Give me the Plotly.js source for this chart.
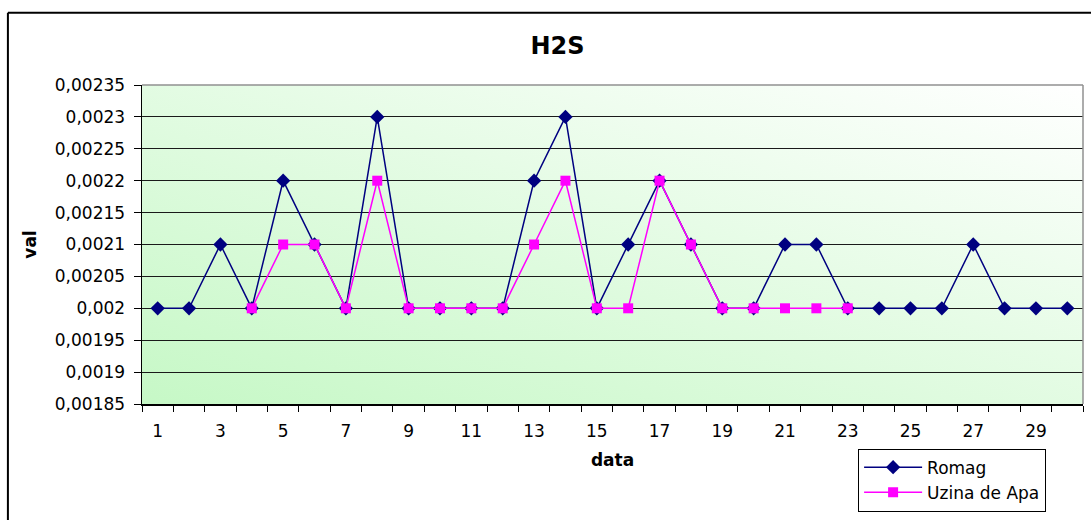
<!DOCTYPE html>
<html>
<head>
<meta charset="utf-8">
<script src="https://cdn.plot.ly/plotly-3.0.1.min.js"></script>
<style>
  html, body { margin: 0; padding: 0; background: #ffffff; }
  #chart { width: 1091px; height: 520px; }
</style>
</head>
<body>
<div id="chart"></div>
<script>
// Daily H2S readings for two stations
const days = [1, 2, 3, 4, 5, 6, 7, 8, 9, 10, 11, 12, 13, 14, 15,
              16, 17, 18, 19, 20, 21, 22, 23, 24, 25, 26, 27, 28, 29, 30];
const romag = [0.002, 0.002, 0.0021, 0.002, 0.0022, 0.0021, 0.002, 0.0023, 0.002, 0.002,
               0.002, 0.002, 0.0022, 0.0023, 0.002, 0.0021, 0.0022, 0.0021, 0.002, 0.002,
               0.0021, 0.0021, 0.002, 0.002, 0.002, 0.002, 0.0021, 0.002, 0.002, 0.002];
const uzinaDeApa = [null, null, null, 0.002, 0.0021, 0.0021, 0.002, 0.0022, 0.002, 0.002,
                    0.002, 0.002, 0.0021, 0.0022, 0.002, 0.002, 0.0022, 0.0021, 0.002, 0.002,
                    0.002, 0.002, 0.002, null, null, null, null, null, null, null];
const xLabelDays = [1, 3, 5, 7, 9, 11, 13, 15, 17, 19, 21, 23, 25, 27, 29];
const yTicks = [0.00185, 0.0019, 0.00195, 0.002, 0.00205, 0.0021, 0.00215, 0.0022, 0.00225, 0.0023, 0.00235];

const fmt = v => String(parseFloat(v.toFixed(5))).replace('.', ',');
const boundaries = [];
for (let i = 0; i <= days.length; i++) boundaries.push(days[0] - 0.5 + i);

// soft green-to-white fill behind the plotting area
const gradSvg =
  '<svg xmlns="http://www.w3.org/2000/svg" width="100" height="100" preserveAspectRatio="none">' +
  '<defs><linearGradient id="g" x1="0" y1="1" x2="1" y2="0">' +
  '<stop offset="0" stop-color="#c6f8c6"/><stop offset="1" stop-color="#ffffff"/>' +
  '</linearGradient></defs><rect width="100" height="100" fill="url(#g)"/></svg>';
const gradSrc = 'data:image/svg+xml;charset=utf-8,' + encodeURIComponent(gradSvg);

const FONT = 'DejaVu Sans, Liberation Sans, Arial, sans-serif';

const traces = [
  {
    x: days, y: romag, name: 'Romag', type: 'scatter', mode: 'lines+markers',
    line: { color: '#000080', width: 1.5 },
    marker: { symbol: 'diamond', size: 11, color: '#000080' }
  },
  {
    x: days, y: uzinaDeApa, name: 'Uzina de Apa', type: 'scatter', mode: 'lines+markers',
    line: { color: '#ff00ff', width: 1.5 },
    marker: { symbol: 'square', size: 10, color: '#ff00ff' }
  }
];

const layout = {
  width: 1091, height: 520,
  margin: { l: 142, r: 8, t: 85, b: 113, pad: 0 },
  paper_bgcolor: '#ffffff',
  plot_bgcolor: 'rgba(0,0,0,0)',
  font: { family: FONT, size: 17, color: '#000000' },
  showlegend: true,
  title: {
    text: '<b>H2S</b>', font: { family: FONT, size: 24, color: '#000000' },
    x: 0.511, xanchor: 'center', xref: 'container', y: 0.913, yanchor: 'middle', yref: 'container'
  },
  xaxis: {
    range: [0.5, 30.5], showgrid: false, zeroline: false,
    tickmode: 'array', tickvals: xLabelDays, ticktext: xLabelDays.map(String),
    ticks: '', ticklen: 0, ticklabelstandoff: 11,
    minor: { tickmode: 'array', tickvals: boundaries, ticks: 'outside', ticklen: 6, tickcolor: '#000000', tickwidth: 1, showgrid: false },
    showline: true, linecolor: '#000000', linewidth: 1.5,
    tickfont: { family: FONT, size: 17 },
    title: { text: '<b>data</b>', font: { family: FONT, size: 17 }, standoff: 14 },
    fixedrange: true
  },
  yaxis: {
    range: [0.00185, 0.00235], zeroline: false,
    tickmode: 'array', tickvals: yTicks, ticktext: yTicks.map(fmt),
    ticks: 'outside', ticklen: 7, tickcolor: '#000000', tickwidth: 1, ticklabelstandoff: 5,
    showgrid: true, gridcolor: '#1a1a1a', gridwidth: 1,
    showline: true, linecolor: '#000000', linewidth: 1.5,
    tickfont: { family: FONT, size: 17 },
    title: { text: '<b>val</b>', font: { family: FONT, size: 17 }, standoff: 14 },
    fixedrange: true
  },
  legend: {
    x: 0.761, y: -0.14, xanchor: 'left', yanchor: 'top',
    bgcolor: '#ffffff', bordercolor: '#000000', borderwidth: 1,
    font: { family: FONT, size: 17 }, tracegroupgap: 0, itemwidth: 58
  },
  images: [{
    source: gradSrc, xref: 'paper', yref: 'paper', x: 0, y: 1, sizex: 1, sizey: 1,
    xanchor: 'left', yanchor: 'top', sizing: 'stretch', layer: 'below'
  }],
  shapes: [
    // grey frame around the plotting area (top and right)
    { type: 'line', xref: 'paper', yref: 'paper', x0: 0, x1: 1, y0: 1, y1: 1, line: { color: '#909090', width: 1.5 } },
    { type: 'line', xref: 'paper', yref: 'paper', x0: 1, x1: 1, y0: 0, y1: 1, line: { color: '#909090', width: 1.5 } },
    // outer chart border
    { type: 'line', xref: 'paper', yref: 'paper', x0: -0.1425, x1: 1.2, y0: 1.2267, y1: 1.2267, line: { color: '#000000', width: 2 } },
    { type: 'line', xref: 'paper', yref: 'paper', x0: -0.1425, x1: -0.1425, y0: -0.6, y1: 1.2267, line: { color: '#000000', width: 2 } }
  ]
};

Plotly.newPlot('chart', traces, layout, { displayModeBar: false, staticPlot: true });
</script>
</body>
</html>
